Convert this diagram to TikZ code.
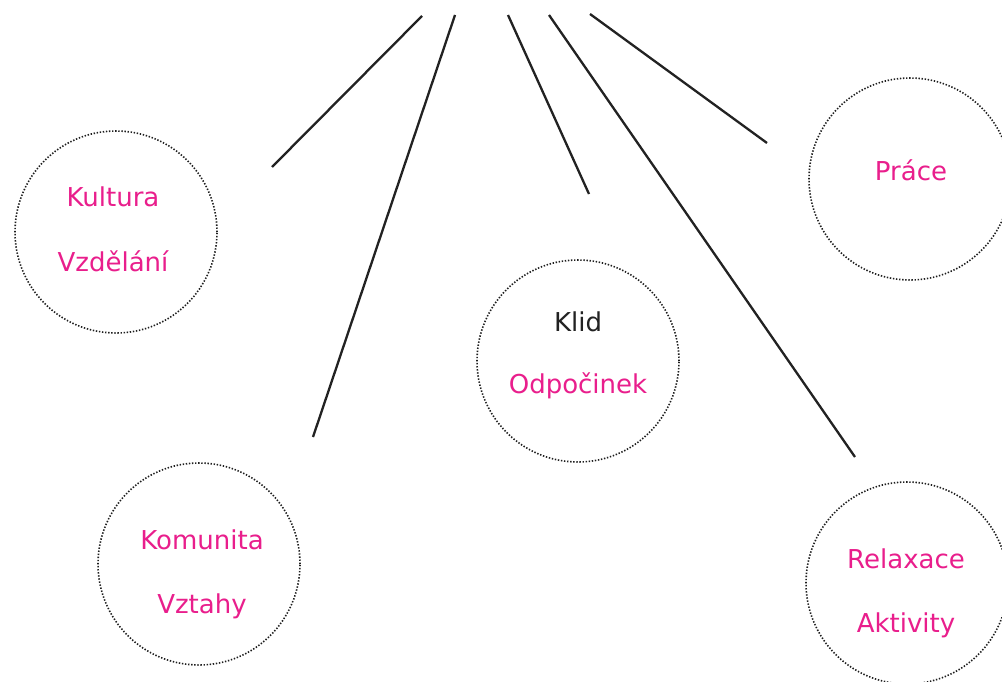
\documentclass[tikz,border=0pt]{standalone}
\usepackage{fontspec}
\setmainfont{DejaVu Sans}
\definecolor{pinktext}{RGB}{233,30,140}
\definecolor{darktext}{RGB}{34,34,34}
\definecolor{dotcol}{RGB}{30,30,30}
\begin{document}
\begin{tikzpicture}[x=1pt,y=-1pt,
  bubble/.style={circle,draw=dotcol,line width=1.6pt,dash pattern=on 1.4pt off 1.7pt,minimum size=202pt,inner sep=0pt},
  lbl/.style={anchor=base,text=pinktext,font=\fontsize{26}{30}\selectfont,inner sep=0pt},
  lbldark/.style={lbl,text=darktext},
  spoke/.style={line width=2.3pt,draw=darktext}]
\useasboundingbox[fill=white] (0,0) rectangle (1002,682);
% circles
\node[bubble] (c1) at (116,232) {};
\node[bubble] (c2) at (578,361) {};
\node[bubble] (c3) at (910,179) {};
\node[bubble] (c4) at (199,564) {};
\node[bubble] (c5) at (907,583) {};
% labels
\node[lbl] (t1a) at (113,207) {Kultura};
\node[lbl] (t1b) at (113,271) {Vzdělání};
\node[lbldark] (t2a) at (578,331) {Klid};
\node[lbl] (t2b) at (578,393) {Odpočinek};
\node[lbl] (t3) at (911,181) {Práce};
\node[lbl] (t4a) at (202,549) {Komunita};
\node[lbl] (t4b) at (202,613) {Vztahy};
\node[lbl] (t5a) at (906,568) {Relaxace};
\node[lbl] (t5b) at (906,632) {Aktivity};
% spokes
\coordinate (s1) at (422,16); \coordinate (e1) at (272,167);
\coordinate (s2) at (455,15); \coordinate (e2) at (313,437);
\coordinate (s3) at (508,15); \coordinate (e3) at (589,194);
\coordinate (s4) at (549,15); \coordinate (e4) at (855,457);
\coordinate (s5) at (590,14); \coordinate (e5) at (767,143);
\draw[spoke] (s1) -- (e1);
\draw[spoke] (s2) -- (e2);
\draw[spoke] (s3) -- (e3);
\draw[spoke] (s4) -- (e4);
\draw[spoke] (s5) -- (e5);
\end{tikzpicture}
\end{document}
